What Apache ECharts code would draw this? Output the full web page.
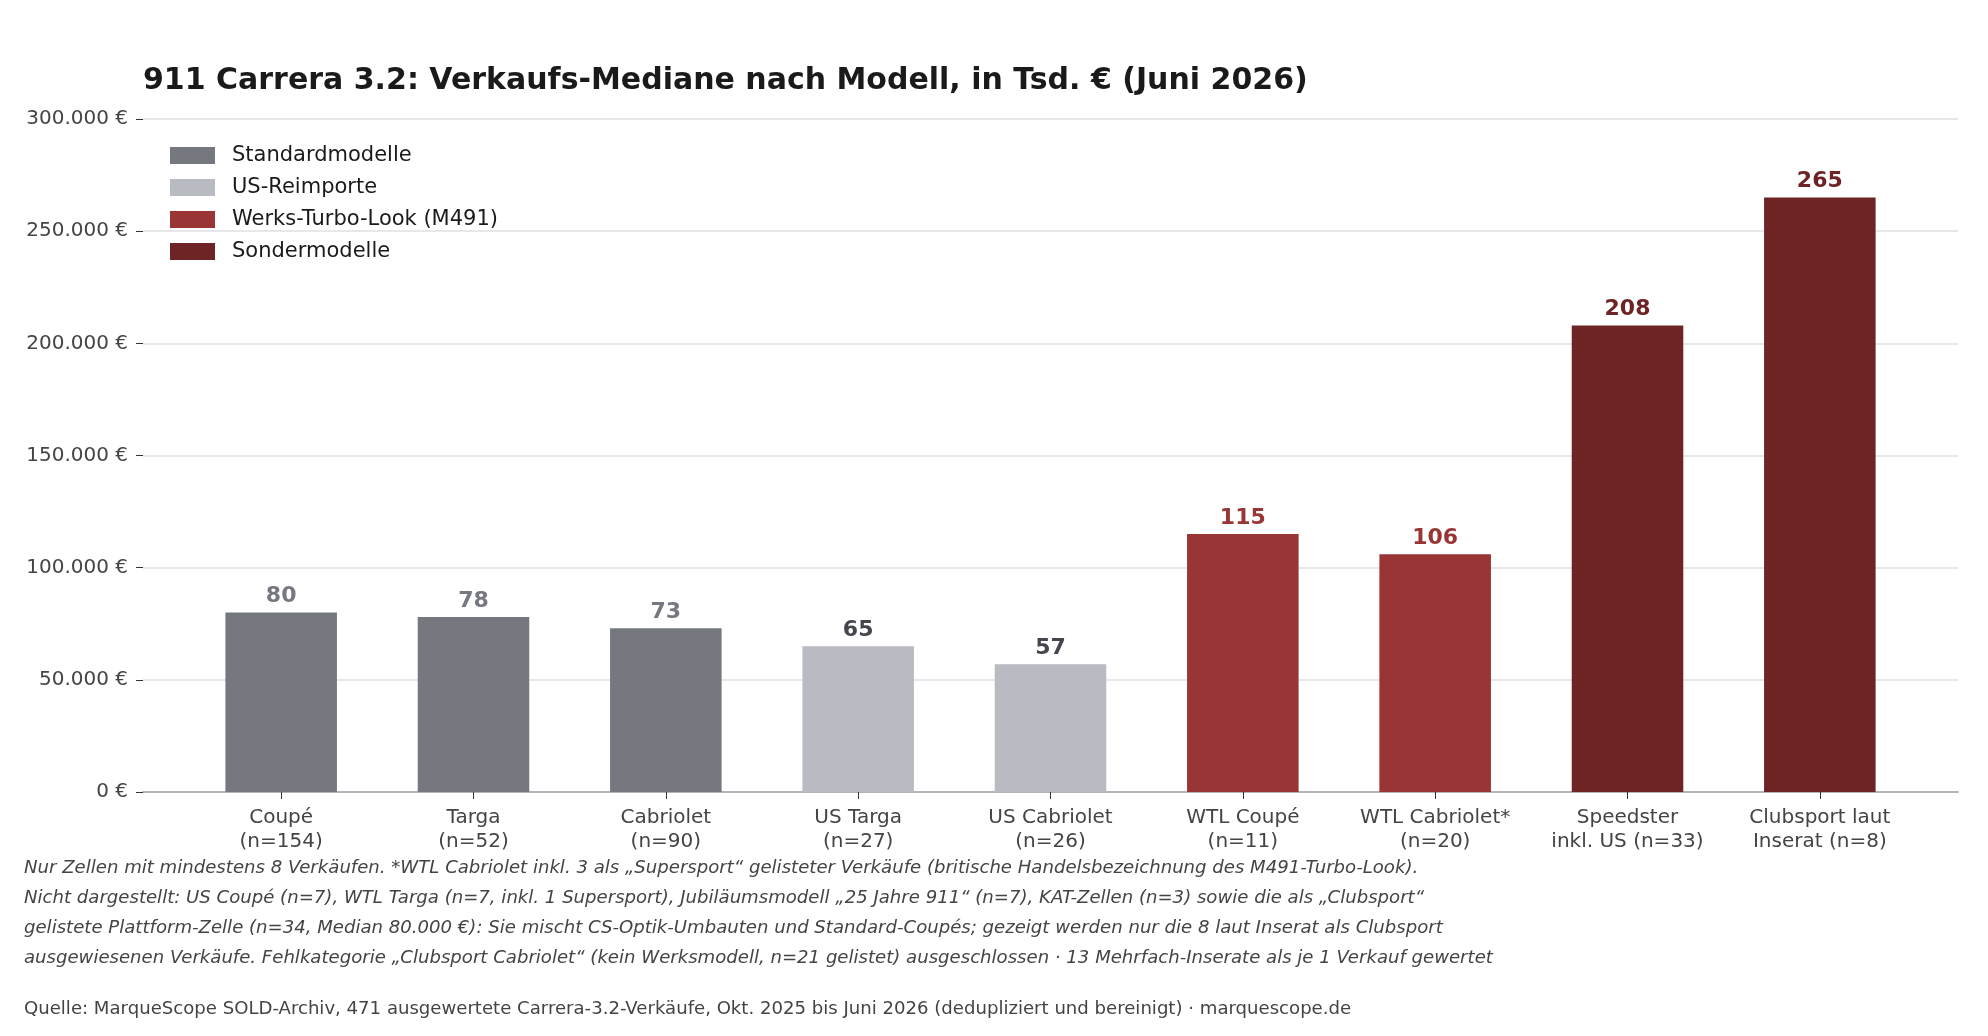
<!DOCTYPE html>
<html>
<head>
<meta charset="utf-8">
<script src="https://cdn.jsdelivr.net/npm/echarts@6/dist/echarts.min.js"></script>
<style>
  html, body { margin: 0; padding: 0; background: #fff; }
  #chart { width: 1988px; height: 1036px; }
</style>
</head>
<body>
<div id="chart"></div>
<script>
// Kategorien (Achsenbeschriftung, zweizeilig)
const categories = [
  "Coupé\n(n=154)",
  "Targa\n(n=52)",
  "Cabriolet\n(n=90)",
  "US Targa\n(n=27)",
  "US Cabriolet\n(n=26)",
  "WTL Coupé\n(n=11)",
  "WTL Cabriolet*\n(n=20)",
  "Speedster\ninkl. US (n=33)",
  "Clubsport laut\nInserat (n=8)"
];
// Median in Tsd. €
const medians = [80, 78, 73, 65, 57, 115, 106, 208, 265];
// Gruppe je Kategorie (Index in groupNames)
const groupOf = [0, 0, 0, 1, 1, 2, 2, 3, 3];
const groupNames = ["Standardmodelle", "US-Reimporte", "Werks-Turbo-Look (M491)", "Sondermodelle"];
const groupColors = ["#76787f", "#b9bbc3", "#9a3535", "#6e2424"];
const labelColors = ["#76787f", "#44464d", "#9a3535", "#6e2424"];
const yTicks = [0, 50, 100, 150, 200, 250, 300];

const footnote = [
  "Nur Zellen mit mindestens 8 Verkäufen. *WTL Cabriolet inkl. 3 als „Supersport“ gelisteter Verkäufe (britische Handelsbezeichnung des M491-Turbo-Look).",
  "Nicht dargestellt: US Coupé (n=7), WTL Targa (n=7, inkl. 1 Supersport), Jubiläumsmodell „25 Jahre 911“ (n=7), KAT-Zellen (n=3) sowie die als „Clubsport“",
  "gelistete Plattform-Zelle (n=34, Median 80.000 €): Sie mischt CS-Optik-Umbauten und Standard-Coupés; gezeigt werden nur die 8 laut Inserat als Clubsport",
  "ausgewiesenen Verkäufe. Fehlkategorie „Clubsport Cabriolet“ (kein Werksmodell, n=21 gelistet) ausgeschlossen · 13 Mehrfach-Inserate als je 1 Verkauf gewertet"
];
const source = "Quelle: MarqueScope SOLD-Archiv, 471 ausgewertete Carrera-3.2-Verkäufe, Okt. 2025 bis Juni 2026 (dedupliziert und bereinigt) · marquescope.de";

const FONT = "DejaVu Sans";

function euro(v) {
  const s = String(Math.round(v * 1000)).replace(/\B(?=(\d{3})+(?!\d))/g, ".");
  return s + " €";
}

const series = groupNames.map((name, g) => ({
  name: name,
  type: "bar",
  stack: "all",
  xAxisIndex: 1,
  yAxisIndex: 1,
  barWidth: "58%",
  itemStyle: { color: groupColors[g] },
  label: {
    show: true,
    position: "top",
    distance: 5,
    fontFamily: FONT,
    fontSize: 22,
    fontWeight: "bold",
    color: labelColors[g]
  },
  data: medians.map((v, i) => (groupOf[i] === g ? v : "-")),
  animation: false
}));

const chart = echarts.init(document.getElementById("chart"));
chart.setOption({
  backgroundColor: "#ffffff",
  textStyle: { fontFamily: FONT },
  title: {
    text: "911 Carrera 3.2: Verkaufs-Mediane nach Modell, in Tsd. € (Juni 2026)",
    left: 143,
    top: 66,
    padding: 0,
    textStyle: { fontFamily: FONT, fontSize: 30, fontWeight: "bold", color: "#1a1a1a" }
  },
  legend: {
    orient: "vertical",
    left: 170,
    top: 145,
    padding: 0,
    itemWidth: 45,
    itemHeight: 17,
    itemGap: 11,
    icon: "rect",
    data: groupNames,
    textStyle: { fontFamily: FONT, fontSize: 21, color: "#1a1a1a", padding: [0, 0, 0, 12] }
  },
  grid: [
    { left: 143, right: 30, top: 119, bottom: 244 },
    { left: 185, right: 72, top: 119, bottom: 244 }
  ],
  xAxis: [
    {
      gridIndex: 0,
      type: "value",
      min: 0,
      max: 1,
      axisLine: { show: true, onZero: false, lineStyle: { color: "#b4b4bc", width: 2 } },
      axisTick: { show: false },
      axisLabel: { show: false },
      splitLine: { show: false }
    },
    {
      gridIndex: 1,
      type: "category",
      data: categories,
      axisLine: { show: false },
      axisTick: { show: true, alignWithLabel: true, length: 7, lineStyle: { color: "#333" } },
      axisLabel: {
        margin: 14,
        fontFamily: FONT,
        fontSize: 20,
        lineHeight: 24,
        color: "#444444",
        interval: 0
      }
    }
  ],
  yAxis: [
    {
      gridIndex: 0,
      type: "value",
      min: 0,
      max: 300,
      interval: 50,
      axisLine: { show: false },
      axisTick: { show: true, length: 7, lineStyle: { color: "#333" } },
      axisLabel: {
        margin: 15,
        fontFamily: FONT,
        fontSize: 20,
        color: "#444444",
        formatter: (v) => (yTicks.includes(v) ? euro(v) : "")
      },
      splitLine: { show: true, lineStyle: { color: "#e1e1e6", width: 1.5 } }
    },
    {
      gridIndex: 1,
      type: "value",
      min: 0,
      max: 300,
      interval: 50,
      show: false,
      splitLine: { show: false }
    }
  ],
  series: series,
  graphic: [
    {
      type: "text",
      left: 24,
      top: 853,
      style: {
        text: footnote.join("\n"),
        font: "italic 18.1px 'DejaVu Sans'",
        lineHeight: 30,
        fill: "#444444"
      }
    },
    {
      type: "text",
      left: 24,
      top: 1000,
      style: {
        text: source,
        font: "18.1px 'DejaVu Sans'",
        fill: "#444444"
      }
    }
  ]
});
</script>
</body>
</html>
